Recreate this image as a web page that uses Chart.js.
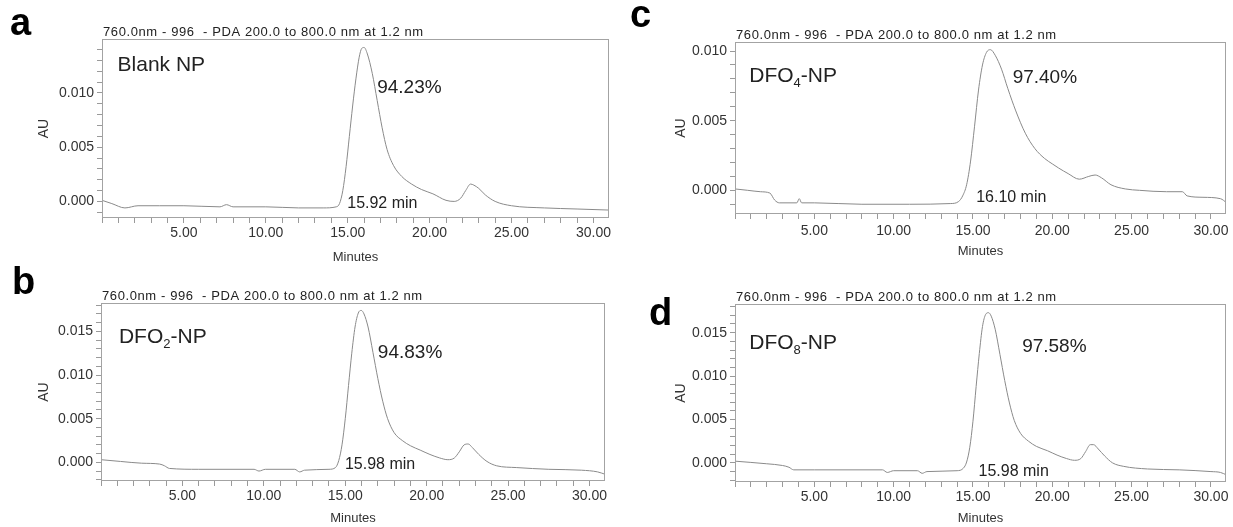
<!DOCTYPE html>
<html><head><meta charset="utf-8">
<script src="https://cdn.jsdelivr.net/npm/chart.js@4.4.1/dist/chart.umd.min.js"></script>
<style>
html,body{margin:0;padding:0;background:#fff;}
#wrap{position:relative;width:1233px;height:527px;overflow:hidden;background:#fff;}
canvas{position:absolute;left:0;top:0;}
</style></head><body><div id="wrap">
<canvas id="cA" width="1233" height="527"></canvas>
<canvas id="cB" width="1233" height="527"></canvas>
<canvas id="cC" width="1233" height="527"></canvas>
<canvas id="cD" width="1233" height="527"></canvas>
</div>
<script>
// ---------------- data (retention time in minutes, absorbance in AU) ----------------
const timeA = [0, 0.6, 1.4, 2.2, 3.5, 5, 7.2, 7.6, 8, 10, 12, 13.5, 14.3, 14.5, 14.7, 14.9, 15.1, 15.3, 15.5, 15.7, 15.85, 16.0, 16.2, 16.5, 16.8, 17.1, 17.4, 17.8, 18.3, 18.9, 19.5, 20.2, 21.0, 21.5, 21.9, 22.2, 22.5, 22.7, 23.0, 23.4, 24.0, 25.0, 27.0, 29.0, 31.0];
const auA   = [0.0001, -0.0002, -0.0006, -0.0004, -0.0004, -0.0004, -0.0005, -0.0003, -0.0005, -0.0005, -0.0006, -0.0006, -0.0005, -0.0002, 0.0010, 0.0032, 0.0060, 0.0088, 0.0113, 0.0133, 0.0141, 0.0142, 0.0136, 0.0118, 0.0093, 0.0068, 0.0048, 0.0033, 0.0023, 0.0016, 0.0011, 0.0007, 0.0001, 0.0000, 0.0003, 0.0010, 0.0016, 0.0015, 0.0012, 0.0006, 0.0000, -0.0004, -0.0006, -0.0007, -0.0008];

const timeB = [0, 1.2, 2.5, 3.6, 3.9, 4.2, 6, 9.4, 9.7, 10.1, 11.9, 12.2, 12.5, 14.0, 14.4, 14.6, 14.8, 15.0, 15.2, 15.4, 15.6, 15.8, 15.98, 16.15, 16.4, 16.7, 17.0, 17.3, 17.6, 18.0, 18.5, 19.0, 19.6, 20.2, 20.8, 21.3, 21.7, 22.0, 22.3, 22.55, 22.8, 23.2, 23.7, 24.3, 25.5, 27.5, 29.5, 30.5, 31];
const auB   = [0.0003, 0.0001, -0.0001, -0.0002, -0.0004, -0.0007, -0.0008, -0.0008, -0.0010, -0.0008, -0.0008, -0.0011, -0.0009, -0.0008, -0.0006, 0.0002, 0.0020, 0.0050, 0.0088, 0.0125, 0.0155, 0.0171, 0.0174, 0.0170, 0.0155, 0.0126, 0.0096, 0.0070, 0.0050, 0.0034, 0.0025, 0.0019, 0.0014, 0.0009, 0.0005, 0.0003, 0.0005, 0.0012, 0.0020, 0.0021, 0.0017, 0.0009, 0.0001, -0.0004, -0.0006, -0.0008, -0.0009, -0.0011, -0.0014];

const timeC = [0, 0.8, 1.6, 2.2, 2.5, 2.8, 3.9, 4.05, 4.2, 5, 8, 11, 13.6, 14.1, 14.35, 14.6, 14.85, 15.1, 15.35, 15.6, 15.85, 16.1, 16.4, 16.8, 17.2, 17.7, 18.3, 18.9, 19.5, 20.0, 20.4, 21.0, 21.7, 22.3, 22.7, 23.1, 23.7, 24.6, 25.5, 27.2, 28.2, 28.5, 29.5, 30.6, 31];
const auC   = [0.0001, 0.0, -0.0001, -0.0002, -0.0007, -0.0009, -0.0009, -0.0006, -0.0009, -0.0009, -0.0010, -0.0010, -0.00095, -0.0008, -0.0004, 0.0004, 0.0021, 0.0046, 0.0072, 0.0090, 0.0099, 0.0101, 0.0097, 0.0087, 0.0073, 0.0057, 0.0041, 0.0030, 0.0023, 0.0019, 0.0016, 0.0012, 0.0008, 0.0010, 0.0011, 0.0009, 0.0004, 0.0001, 0.0, -0.0001, -0.0001, -0.0004, -0.0005, -0.0006, -0.0009];

const timeD = [0, 2.0, 3.0, 3.4, 3.7, 5, 9.3, 9.6, 10.0, 11.5, 11.8, 12.1, 14.0, 14.4, 14.6, 14.8, 15.0, 15.2, 15.4, 15.6, 15.8, 15.98, 16.15, 16.4, 16.7, 17.0, 17.3, 17.6, 18.0, 18.5, 19.0, 19.7, 20.3, 20.9, 21.4, 21.8, 22.1, 22.4, 22.6, 22.9, 23.3, 23.8, 24.5, 26, 28, 30, 30.6, 31];
const auD   = [0.0002, -0.0001, -0.0003, -0.0005, -0.0008, -0.0008, -0.0008, -0.0011, -0.0009, -0.0009, -0.0012, -0.0010, -0.0009, -0.0006, 0.0001, 0.0018, 0.0048, 0.0088, 0.0126, 0.0157, 0.0171, 0.0173, 0.0169, 0.0154, 0.0125, 0.0095, 0.0069, 0.0049, 0.0034, 0.0025, 0.0019, 0.0014, 0.0009, 0.0005, 0.0003, 0.0005, 0.0013, 0.0021, 0.0021, 0.0016, 0.0008, 0.0000, -0.0004, -0.0007, -0.0008, -0.0010, -0.0011, -0.0014];

// ---------------- text ----------------
const panelLetters = ['a', 'b', 'c', 'd'];
const detectorTitle = '760.0nm - 996  - PDA 200.0 to 800.0 nm at 1.2 nm';
const nameBase = ['Blank NP', 'DFO', 'DFO', 'DFO'];
const nameSub  = ['', '2', '4', '8'];
const nameTail = ['', '-NP', '-NP', '-NP'];
const purity   = ['94.23%', '94.83%', '97.40%', '97.58%'];
const retention = ['15.92 min', '15.98 min', '16.10 min', '15.98 min'];
const xAxisTitle = 'Minutes';
const yAxisTitle = 'AU';

// ---------------- layout (page pixels / data anchors) ----------------
const FONT = '"Liberation Sans", Arial, sans-serif';
const X_MIN = 0, X_MAX = 30.95, X_STEP = 1, X_LABEL_EVERY = 5;
const Y_STEP = 0.001, Y_LABEL_EVERY = 0.005;
const layouts = [
  {canvas:'cA', regionL:0,   boxL:102, boxT:39,  boxR:609,  boxB:218, axisBottom:265, yMin:-0.00153, yMax:0.01498, auPad:36, minPad:0, tickPad:2,
   letterX:10, letterY:35, nameAt:[0.95,0.01202], pctAt:[16.8,0.01], rtAt:[14.97,-0.00059]},
  {canvas:'cB', regionL:0,   boxL:101, boxT:303, boxR:605,  boxB:481, axisBottom:527, yMin:-0.00214, yMax:0.01825, auPad:36, minPad:1, tickPad:2,
   letterX:12, letterY:294, nameAt:[1.1,0.0137], pctAt:[17.0,0.0119], rtAt:[14.98,-0.00073]},
  {canvas:'cC', regionL:620, boxL:735, boxT:42,  boxR:1226, boxB:214, axisBottom:263, yMin:-0.0017, yMax:0.01065, auPad:53, minPad:4, tickPad:4,
   letterX:630, letterY:27, nameAt:[0.9,0.0078], pctAt:[17.5,0.0077], rtAt:[15.2,-0.00082]},
  {canvas:'cD', regionL:620, boxL:735, boxT:304, boxR:1226, boxB:482, axisBottom:527, yMin:-0.0022, yMax:0.0183, auPad:53, minPad:1, tickPad:2,
   letterX:649, letterY:325, nameAt:[0.9,0.0131], pctAt:[18.1,0.0128], rtAt:[15.35,-0.00156]}
];
const series = [[timeA, auA], [timeB, auB], [timeC, auC], [timeD, auD]];

const onStep = (v, s) => Math.abs(v / s - Math.round(v / s)) < 1e-6;
function stepTicks(min, max, step) {
  const out = [];
  for (let k = Math.ceil(min / step - 1e-9); k * step <= max + 1e-12; k++) {
    out.push({value: Math.round(k * step * 1e6) / 1e6});
  }
  return out;
}

const panelPlugin = {
  id: 'panelText',
  afterDraw(chart, args, o) {
    const {ctx, chartArea: ca, scales: {x, y}} = chart;
    ctx.save();
    ctx.strokeStyle = '#a3a3a3';
    ctx.lineWidth = 1;
    ctx.strokeRect(ca.left + 0.5, ca.top + 0.5, ca.right - ca.left - 1, ca.bottom - ca.top - 1);
    ctx.fillStyle = '#222';
    ctx.textAlign = 'left';
    ctx.textBaseline = 'alphabetic';
    // detector title
    ctx.font = '13px ' + FONT;
    ctx.letterSpacing = '0.6px';
    ctx.fillText(detectorTitle, ca.left + 1, ca.top - 3);
    ctx.letterSpacing = '0px';
    // panel letter
    ctx.fillStyle = '#000';
    ctx.font = 'bold 38px ' + FONT;
    ctx.fillText(panelLetters[o.i], o.L.letterX, o.L.letterY);
    ctx.fillStyle = '#222';
    // sample name with subscript
    let px = x.getPixelForValue(o.L.nameAt[0]);
    const py = y.getPixelForValue(o.L.nameAt[1]);
    ctx.font = '21px ' + FONT;
    ctx.fillText(nameBase[o.i], px, py);
    px += ctx.measureText(nameBase[o.i]).width;
    if (nameSub[o.i]) {
      ctx.font = '13px ' + FONT;
      ctx.fillText(nameSub[o.i], px, py + 5);
      px += ctx.measureText(nameSub[o.i]).width;
      ctx.font = '21px ' + FONT;
      ctx.fillText(nameTail[o.i], px, py);
    }
    // purity
    ctx.font = '19px ' + FONT;
    ctx.fillText(purity[o.i], x.getPixelForValue(o.L.pctAt[0]), y.getPixelForValue(o.L.pctAt[1]));
    // retention time
    ctx.font = '16px ' + FONT;
    ctx.fillText(retention[o.i], x.getPixelForValue(o.L.rtAt[0]), y.getPixelForValue(o.L.rtAt[1]));
    ctx.restore();
  }
};

layouts.forEach((L, i) => {
  const [times, vals] = series[i];
  new Chart(document.getElementById(L.canvas), {
    type: 'line',
    data: {datasets: [{
      data: times.map((t, k) => ({x: t, y: vals[k]})),
      borderColor: '#8a8a8a', borderWidth: 1, pointRadius: 0,
      cubicInterpolationMode: 'monotone', fill: false
    }]},
    options: {
      responsive: false, animation: false, devicePixelRatio: 1,
      layout: {padding: {left: L.regionL, top: L.boxT, right: 1233 - L.boxR, bottom: 527 - L.axisBottom}},
      plugins: {legend: {display: false}, tooltip: {enabled: false}, panelText: {i: i, L: L}},
      scales: {
        x: {
          type: 'linear', min: X_MIN, max: X_MAX,
          afterBuildTicks: s => { s.ticks = stepTicks(X_MIN, X_MAX, X_STEP); s.min = X_MIN; s.max = X_MAX; },
          afterFit: s => { s.height = L.axisBottom - L.boxB; },
          ticks: {stepSize: X_STEP, autoSkip: false, maxRotation: 0, minRotation: 0, padding: L.tickPad,
            color: '#333', font: {family: FONT, size: 14},
            callback: v => (v > 0 && onStep(v, X_LABEL_EVERY)) ? v.toFixed(2) : ''},
          grid: {drawOnChartArea: false, drawTicks: true, tickLength: 5, color: '#9a9a9a'},
          border: {display: false},
          title: {display: true, text: xAxisTitle, color: '#333', font: {family: FONT, size: 13},
            padding: {top: 0, bottom: L.minPad}}
        },
        y: {
          type: 'linear', min: L.yMin, max: L.yMax,
          afterBuildTicks: s => { s.ticks = stepTicks(L.yMin, L.yMax, Y_STEP); s.min = L.yMin; s.max = L.yMax; },
          afterFit: s => { s.width = L.boxL - L.regionL; },
          ticks: {stepSize: Y_STEP, autoSkip: false, padding: 3,
            color: '#333', font: {family: FONT, size: 14},
            callback: v => onStep(v, Y_LABEL_EVERY) ? (Math.round(v * 1000) / 1000).toFixed(3) : ''},
          grid: {drawOnChartArea: false, drawTicks: true, tickLength: 5, color: '#9a9a9a'},
          border: {display: false},
          title: {display: true, text: yAxisTitle, color: '#333', font: {family: FONT, size: 14},
            padding: {top: L.auPad, bottom: 0}}
        }
      }
    },
    plugins: [panelPlugin]
  });
});
</script>
</body></html>
